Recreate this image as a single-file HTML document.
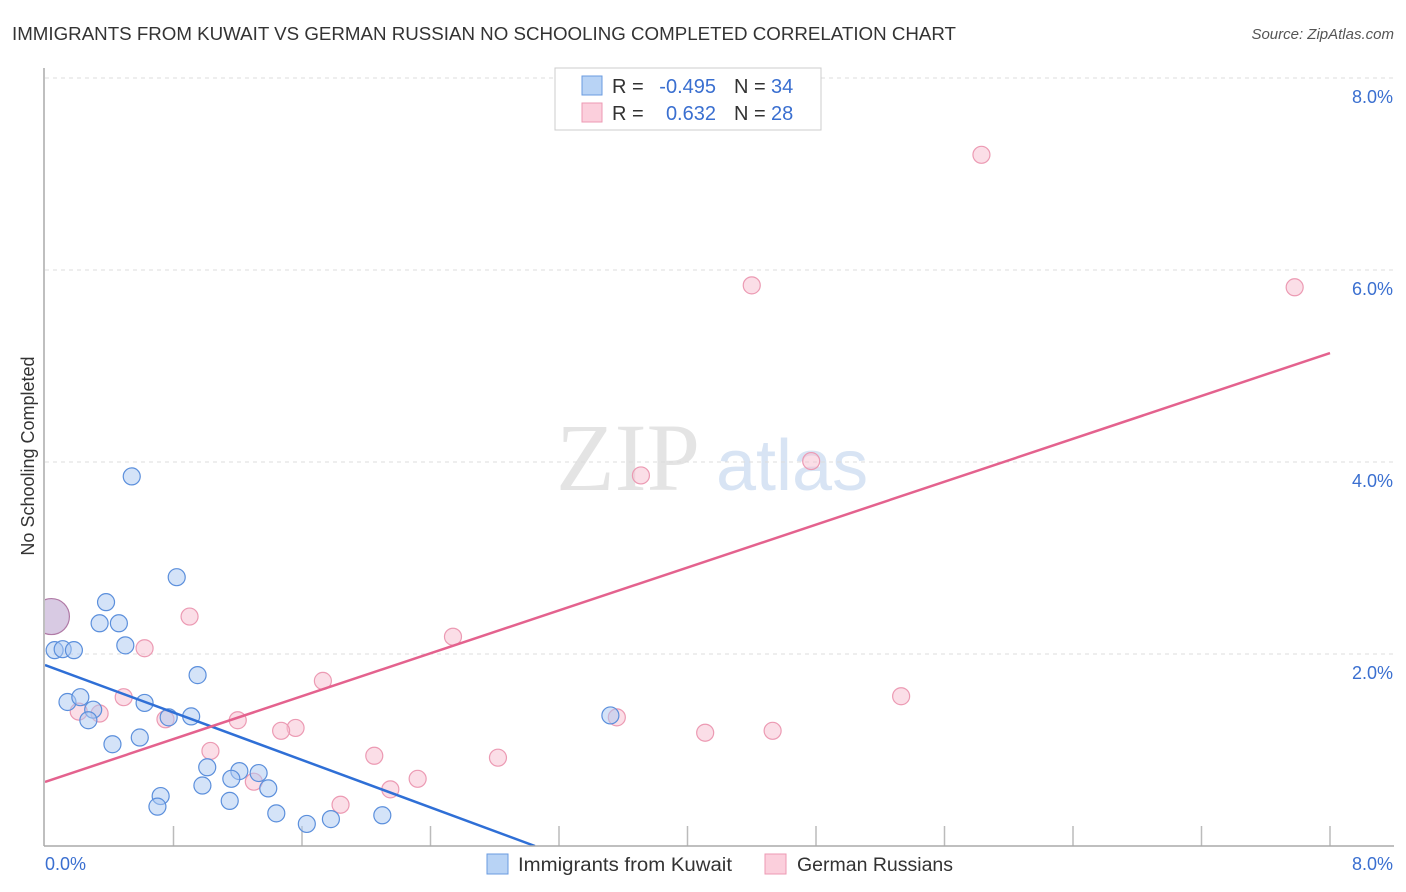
<!DOCTYPE html>
<html><head><meta charset="utf-8"><style>
body{margin:0;background:#fff;font-family:"Liberation Sans",sans-serif;}
</style></head><body>
<svg width="1406" height="892" viewBox="0 0 1406 892" style="display:block">
<text x="12" y="40" font-size="18" fill="#333" textLength="944" lengthAdjust="spacingAndGlyphs">IMMIGRANTS FROM KUWAIT VS GERMAN RUSSIAN NO SCHOOLING COMPLETED CORRELATION CHART</text>
<text x="1394" y="39" font-size="15" fill="#555" font-style="italic" text-anchor="end">Source: ZipAtlas.com</text>
<text x="556" y="490" font-size="96" fill="#e4e4e4" font-family="Liberation Serif,serif">ZIP</text>
<text x="716" y="490" font-size="72" fill="#d8e4f4">atlas</text>
<text transform="translate(34,456) rotate(-90)" font-size="18" fill="#333" text-anchor="middle">No Schooling Completed</text>
<g id="grid"></g><g id="ticks"></g>
<defs><clipPath id="plotclip"><rect x="45" y="60" width="1350" height="786"/></clipPath></defs>
<g id="marks" clip-path="url(#plotclip)"></g>
<line x1="44" y1="68" x2="44" y2="846" stroke="#aaa" stroke-width="1.5"/>
<line x1="44" y1="846" x2="1394" y2="846" stroke="#aaa" stroke-width="1.5"/>
<text x="45" y="870" font-size="18" fill="#3a6fd0">0.0%</text>
<text x="1393" y="870" font-size="18" fill="#3a6fd0" text-anchor="end">8.0%</text>
<g font-size="20">
<rect x="555" y="68" width="266" height="62" fill="#fff" stroke="#ccc"/>
<rect x="582" y="76" width="20" height="19" fill="#b8d3f5" stroke="#6a9be0"/>
<rect x="582" y="103" width="20" height="19" fill="#fbcfdc" stroke="#ec9ab3"/>
<text x="612" y="93" fill="#333">R =</text>
<text x="716" y="93" fill="#3a6fd0" text-anchor="end">-0.495</text>
<text x="734" y="93" fill="#333">N =</text>
<text x="771" y="93" fill="#3a6fd0">34</text>
<text x="612" y="120" fill="#333">R =</text>
<text x="716" y="120" fill="#3a6fd0" text-anchor="end">0.632</text>
<text x="734" y="120" fill="#333">N =</text>
<text x="771" y="120" fill="#3a6fd0">28</text>
</g>
<g>
<rect x="487" y="854" width="21" height="20" fill="#b8d3f5" stroke="#6a9be0"/>
<text x="518" y="871" font-size="19" fill="#333" textLength="214" lengthAdjust="spacingAndGlyphs">Immigrants from Kuwait</text>
<rect x="765" y="854" width="21" height="20" fill="#fbcfdc" stroke="#ec9ab3"/>
<text x="797" y="871" font-size="19" fill="#333" textLength="156" lengthAdjust="spacingAndGlyphs">German Russians</text>
</g>
</svg>
<script>
const yTicks=[2,4,6,8];
const yTickLabels=["2.0%","4.0%","6.0%","8.0%"];
const xTicks=[0.8,1.6,2.4,3.2,4.0,4.8,5.6,6.4,7.2,8.0];
const blueX=[0.06,0.11,0.18,0.54,0.82,0.38,0.34,0.46,0.50,0.95,0.14,0.22,0.30,0.27,0.62,0.77,0.91,0.42,0.59,1.01,1.21,1.33,1.16,0.98,1.39,0.72,0.70,1.15,1.44,1.63,1.78,2.10,3.52];
const blueY=[2.04,2.05,2.04,3.85,2.80,2.54,2.32,2.32,2.09,1.78,1.50,1.55,1.42,1.31,1.49,1.34,1.35,1.06,1.13,0.82,0.78,0.76,0.70,0.63,0.60,0.52,0.41,0.47,0.34,0.23,0.28,0.32,1.36];
const pinkX=[5.83,4.40,7.78,4.77,3.71,0.90,0.62,2.54,1.73,0.49,0.21,0.34,0.75,1.20,1.56,1.47,3.56,5.33,4.11,4.53,1.03,2.05,2.82,2.32,1.30,2.15,1.84];
const pinkY=[7.20,5.84,5.82,4.01,3.86,2.39,2.06,2.18,1.72,1.55,1.40,1.38,1.32,1.31,1.23,1.20,1.34,1.56,1.18,1.20,0.99,0.94,0.92,0.70,0.67,0.59,0.43];
const bigX=[0.04], bigY=[2.39];
const blueTrend=[1.885,-0.618]; // intercept, slope
const pinkTrend=[0.667,0.5585];
const NS="http://www.w3.org/2000/svg";
const X=v=>45+v/8*1285, Y=v=>846-v*96;
function mk(t,a,p){const e=document.createElementNS(NS,t);for(const k in a)e.setAttribute(k,a[k]);p.appendChild(e);return e;}
const grid=document.getElementById('grid'),ticks=document.getElementById('ticks'),marks=document.getElementById('marks');
yTicks.forEach((v,i)=>{
 const l=mk('line',{x1:45,x2:1394,y1:Y(v),y2:Y(v),stroke:'#ddd','stroke-dasharray':'4,4'},grid);
 
 
 const t=mk('text',{x:1393,y:Y(v)+25,'font-size':18,fill:'#3a6fd0','text-anchor':'end'},grid);
 t.textContent=yTickLabels[i];
 
 
});
xTicks.forEach(v=>{
 const l=mk('line',{x1:X(v),x2:X(v),y1:826,y2:846,stroke:'#bbb','stroke-width':1.5},ticks);
 
 
});
function pts(xs,ys,fill,stroke,r,name){xs.forEach((x,i)=>{
 const c=mk('circle',{cx:X(x),cy:Y(ys[i]),r:r,fill:fill,stroke:stroke,'stroke-width':1.2},marks);
 
 
});}
pts(pinkX,pinkY,'rgba(248,190,208,0.5)','#ec9ab3',8.5,'german-russian-point');
pts(blueX,blueY,'rgba(170,200,242,0.5)','#5b8fdc',8.5,'kuwait-point');
pts(bigX,bigY,'rgba(200,180,215,0.7)','#b07aa6',18,'overlap-point');
function trend(tr,x0,x1,col,name){
 const l=mk('line',{x1:X(x0),y1:Y(tr[0]+tr[1]*x0),x2:X(x1),y2:Y(tr[0]+tr[1]*x1),stroke:col,'stroke-width':2.5},marks);
 
 
}
trend(blueTrend,0,-blueTrend[0]/blueTrend[1],'#2f6fd6','kuwait-trend-line');
trend(pinkTrend,0,8,'#e4628e','german-russian-trend-line');
</script>
</body></html>
